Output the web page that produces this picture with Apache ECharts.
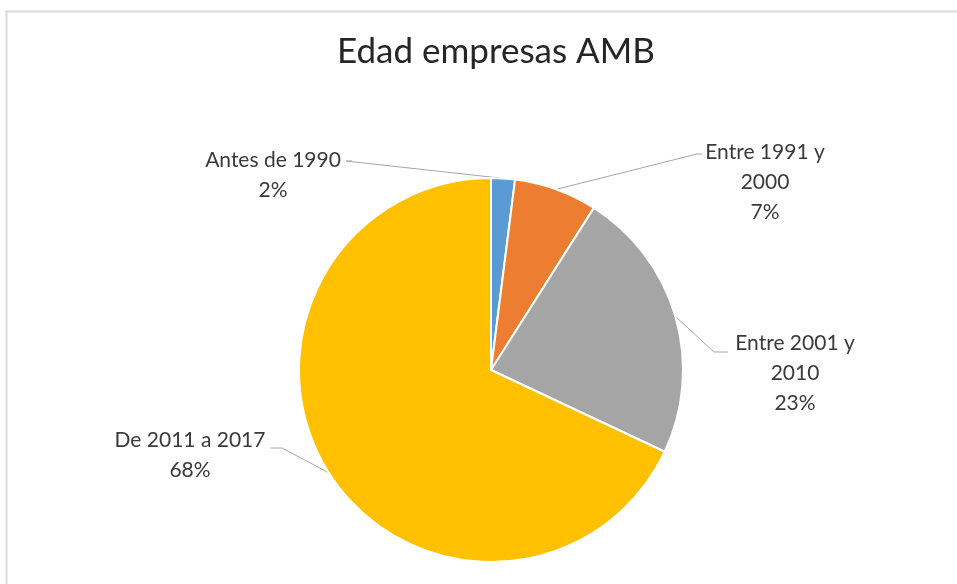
<!DOCTYPE html>
<html>
<head>
<meta charset="utf-8">
<title>Edad empresas AMB</title>
<script src="https://cdn.jsdelivr.net/npm/echarts@6/dist/echarts.min.js"></script>
<style>
  html, body { margin: 0; padding: 0; background: #fff; }
  #chart { width: 957px; height: 584px; }
</style>
</head>
<body>
<div id="chart"></div>
<script>
// data
const categories = ["Antes de 1990", "Entre 1991 y 2000", "Entre 2001 y 2010", "De 2011 a 2017"];
const values = [2, 7, 23, 68];
const colors = ["#5B9BD5", "#ED7D31", "#A5A5A5", "#FFC000"];

// where each label sits (text block top-centre) and how its leader line bends
const labelPos = [
  { x: 273, y: 145, bend: [346, 161], end: [352, 161] },
  { x: 765, y: 137, bend: [697, 154], end: [702, 154] },
  { x: 795, y: 328, bend: [714, 352], end: [728, 352] },
  { x: 190, y: 425, bend: [282, 448], end: [271, 448] }
];

const chart = echarts.init(document.getElementById("chart"));

const option = {
  backgroundColor: "#fff",
  animation: false,
  title: {
    text: "Edad empresas AMB",
    left: 332,
    top: 29,
    textStyle: {
      fontFamily: "Lato",
      fontWeight: "normal",
      fontSize: 35,
      color: "#262626"
    }
  },
  graphic: [
    {
      type: "rect",
      shape: { x: 6.5, y: 11.5, width: 1000, height: 700 },
      style: { fill: "none", stroke: "#d9d9d9", lineWidth: 2 },
      silent: true
    }
  ],
  series: [
    {
      type: "pie",
      center: [491, 370],
      radius: 192,
      startAngle: 90,
      clockwise: true,
      percentPrecision: 0,
      data: categories.map((name, i) => ({
        name: name,
        value: values[i],
        itemStyle: { color: colors[i] }
      })),
      itemStyle: {
        borderColor: "#fff",
        borderWidth: 2
      },
      label: {
        show: true,
        position: "outside",
        fontFamily: "Lato",
        fontSize: 21,
        lineHeight: 30,
        color: "#3a3a3a",
        align: "center",
        formatter: p => p.name.replace(" y ", " y\n") + "\n" + p.percent + "%"
      },
      labelLine: {
        show: true,
        length: 20,
        length2: 10,
        lineStyle: { color: "#a6a6a6", width: 1 }
      },
      labelLayout: params => {
        const pos = labelPos[params.dataIndex];
        const start = params.labelLinePoints ? params.labelLinePoints[0] : pos.bend;
        return {
          x: pos.x,
          y: pos.y,
          align: "center",
          verticalAlign: "top",
          labelLinePoints: [start, pos.bend, pos.end]
        };
      },
      emphasis: { disabled: true }
    }
  ]
};

chart.setOption(option);
</script>
</body>
</html>
